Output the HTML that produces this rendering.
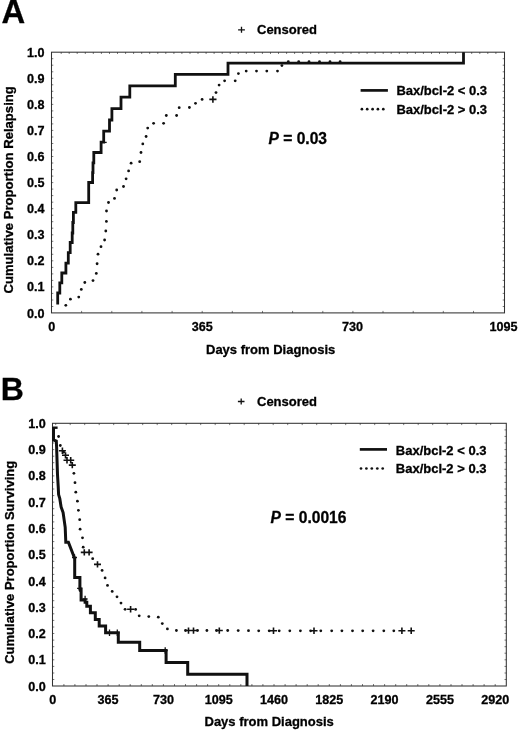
<!DOCTYPE html><html><head><meta charset="utf-8"><style>html,body{margin:0;padding:0;background:#fff;width:520px;height:732px;overflow:hidden}svg{display:block;filter:grayscale(1)}text{font-family:"Liberation Sans",sans-serif;font-weight:bold;fill:#000;stroke:#000;stroke-width:0.3}</style></head><body>
<svg width="520" height="732" viewBox="0 0 520 732">
<text x="1.4" y="23.4" font-size="32.8">A</text>
<path d="M238.1 29.8h6.8M241.5 26.7v6.1" stroke="#111" stroke-width="1.3"/>
<text x="257" y="34.3" font-size="13">Censored</text>
<rect x="51.5" y="52.2" width="453.0" height="260.7" fill="none" stroke="#333" stroke-width="1.05"/>
<path d="M61.2 52.2v1.8M69.2 52.2v1.8M77.2 52.2v1.8M85.3 52.2v1.8M93.3 52.2v1.8M101.4 52.2v1.8M109.5 52.2v1.8M117.5 52.2v1.8M125.6 52.2v1.8M133.6 52.2v1.8M141.7 52.2v1.8M149.7 52.2v1.8M157.8 52.2v1.8M165.8 52.2v1.8M173.9 52.2v1.8M181.9 52.2v1.8M190.0 52.2v1.8M198.0 52.2v1.8M206.1 52.2v1.8M214.1 52.2v1.8M222.2 52.2v1.8M230.2 52.2v1.8M238.2 52.2v1.8M246.3 52.2v1.8M254.4 52.2v1.8M262.4 52.2v1.8M270.5 52.2v1.8M278.5 52.2v1.8M286.6 52.2v1.8M294.6 52.2v1.8M302.7 52.2v1.8M310.7 52.2v1.8M318.8 52.2v1.8M326.8 52.2v1.8M334.9 52.2v1.8M342.9 52.2v1.8M351.0 52.2v1.8M359.0 52.2v1.8M367.1 52.2v1.8M375.1 52.2v1.8M383.2 52.2v1.8M391.2 52.2v1.8M399.3 52.2v1.8M407.3 52.2v1.8M415.4 52.2v1.8M423.4 52.2v1.8M431.5 52.2v1.8M439.5 52.2v1.8M447.6 52.2v1.8M455.6 52.2v1.8M463.7 52.2v1.8M471.7 52.2v1.8M479.8 52.2v1.8M487.8 52.2v1.8M495.9 52.2v1.8M81.6 312.9v-2M111.8 312.9v-2M141.9 312.9v-2M172.1 312.9v-2M202.2 312.9v-2M232.3 312.9v-2M262.5 312.9v-2M292.6 312.9v-2M322.8 312.9v-2M352.9 312.9v-2M383.0 312.9v-2M413.2 312.9v-2M443.3 312.9v-2M473.5 312.9v-2M51.5 58.7h1.8M504.5 58.7h-1.8M51.5 65.2h1.8M504.5 65.2h-1.8M51.5 71.8h1.8M504.5 71.8h-1.8M51.5 78.3h1.8M504.5 78.3h-1.8M51.5 84.8h1.8M504.5 84.8h-1.8M51.5 91.3h1.8M504.5 91.3h-1.8M51.5 97.8h1.8M504.5 97.8h-1.8M51.5 104.4h1.8M504.5 104.4h-1.8M51.5 110.9h1.8M504.5 110.9h-1.8M51.5 117.4h1.8M504.5 117.4h-1.8M51.5 123.9h1.8M504.5 123.9h-1.8M51.5 130.4h1.8M504.5 130.4h-1.8M51.5 137.0h1.8M504.5 137.0h-1.8M51.5 143.5h1.8M504.5 143.5h-1.8M51.5 150.0h1.8M504.5 150.0h-1.8M51.5 156.5h1.8M504.5 156.5h-1.8M51.5 163.0h1.8M504.5 163.0h-1.8M51.5 169.6h1.8M504.5 169.6h-1.8M51.5 176.1h1.8M504.5 176.1h-1.8M51.5 182.6h1.8M504.5 182.6h-1.8M51.5 189.1h1.8M504.5 189.1h-1.8M51.5 195.6h1.8M504.5 195.6h-1.8M51.5 202.2h1.8M504.5 202.2h-1.8M51.5 208.7h1.8M504.5 208.7h-1.8M51.5 215.2h1.8M504.5 215.2h-1.8M51.5 221.7h1.8M504.5 221.7h-1.8M51.5 228.2h1.8M504.5 228.2h-1.8M51.5 234.8h1.8M504.5 234.8h-1.8M51.5 241.3h1.8M504.5 241.3h-1.8M51.5 247.8h1.8M504.5 247.8h-1.8M51.5 254.3h1.8M504.5 254.3h-1.8M51.5 260.8h1.8M504.5 260.8h-1.8M51.5 267.4h1.8M504.5 267.4h-1.8M51.5 273.9h1.8M504.5 273.9h-1.8M51.5 280.4h1.8M504.5 280.4h-1.8M51.5 286.9h1.8M504.5 286.9h-1.8M51.5 293.4h1.8M504.5 293.4h-1.8M51.5 300.0h1.8M504.5 300.0h-1.8M51.5 306.5h1.8M504.5 306.5h-1.8" stroke="#222" stroke-width="1" fill="none" opacity="0.6"/>
<text x="44.6" y="56.8" font-size="12.6" text-anchor="end">1.0</text>
<text x="44.6" y="82.9" font-size="12.6" text-anchor="end">0.9</text>
<text x="44.6" y="108.9" font-size="12.6" text-anchor="end">0.8</text>
<text x="44.6" y="135.0" font-size="12.6" text-anchor="end">0.7</text>
<text x="44.6" y="161.1" font-size="12.6" text-anchor="end">0.6</text>
<text x="44.6" y="187.2" font-size="12.6" text-anchor="end">0.5</text>
<text x="44.6" y="213.2" font-size="12.6" text-anchor="end">0.4</text>
<text x="44.6" y="239.3" font-size="12.6" text-anchor="end">0.3</text>
<text x="44.6" y="265.4" font-size="12.6" text-anchor="end">0.2</text>
<text x="44.6" y="291.4" font-size="12.6" text-anchor="end">0.1</text>
<text x="44.6" y="317.5" font-size="12.6" text-anchor="end">0.0</text>
<text x="51.8" y="331.0" font-size="12.6" text-anchor="middle">0</text>
<text x="202.2" y="331.0" font-size="12.6" text-anchor="middle">365</text>
<text x="352.6" y="331.0" font-size="12.6" text-anchor="middle">730</text>
<text x="503.6" y="331.0" font-size="12.6" text-anchor="middle">1095</text>
<text x="206" y="353.6" font-size="13">Days from Diagnosis</text>
<text transform="translate(12.9,189.9) rotate(-90)" font-size="13.1" text-anchor="middle">Cumulative Proportion Relapsing</text>
<path d="M360.6 90.4H387.9" stroke="#111" stroke-width="2.7"/>
<circle cx="361.9" cy="109.2" r="1.35" fill="#111"/>
<circle cx="367.2" cy="109.2" r="1.35" fill="#111"/>
<circle cx="372.6" cy="109.2" r="1.35" fill="#111"/>
<circle cx="377.9" cy="109.2" r="1.35" fill="#111"/>
<circle cx="383.3" cy="109.2" r="1.35" fill="#111"/>
<text x="396.4" y="95.4" font-size="13">Bax/bcl-2 &lt; 0.3</text>
<text x="396.4" y="114.3" font-size="13">Bax/bcl-2 &gt; 0.3</text>
<text x="268.5" y="143.8" font-size="15.6"><tspan font-style="italic">P</tspan> = 0.03</text>
<path d="M57.7 304.5V293H59.8V282.8H61.8V273H65.9V263.1H68.3V252.7H70.2V242.5H72.2V233H72.8V222.5H73.4V212.3H75.8V202.6H88.7V182.5H92.6V172.6H93V162.8H93.8V152.5H101.1V142.1H103.7V131.2H109.5V120H111.9V108.7H121V97.2H129.8V85.9H175.3V74.3H228V63.1H463.5V52.3" fill="none" stroke="#111" stroke-width="2.8" stroke-linejoin="miter"/>
<circle cx="65.8" cy="305.3" r="1.4" fill="#111"/>
<circle cx="70.4" cy="299.2" r="1.4" fill="#111"/>
<circle cx="78.75" cy="297.1" r="1.4" fill="#111"/>
<circle cx="81.3" cy="289.4" r="1.4" fill="#111"/>
<circle cx="84.8" cy="282.5" r="1.4" fill="#111"/>
<circle cx="93" cy="280.6" r="1.4" fill="#111"/>
<circle cx="96.3" cy="273.4" r="1.4" fill="#111"/>
<circle cx="97.1" cy="263.75" r="1.4" fill="#111"/>
<circle cx="98" cy="254.2" r="1.4" fill="#111"/>
<circle cx="101" cy="246.7" r="1.4" fill="#111"/>
<circle cx="104.6" cy="240" r="1.4" fill="#111"/>
<circle cx="105.8" cy="231" r="1.4" fill="#111"/>
<circle cx="106.4" cy="221.4" r="1.4" fill="#111"/>
<circle cx="106.5" cy="211" r="1.4" fill="#111"/>
<circle cx="108.5" cy="202.5" r="1.4" fill="#111"/>
<circle cx="114.5" cy="198.4" r="1.4" fill="#111"/>
<circle cx="116.7" cy="190" r="1.4" fill="#111"/>
<circle cx="123.5" cy="186.5" r="1.4" fill="#111"/>
<circle cx="126.1" cy="178.8" r="1.4" fill="#111"/>
<circle cx="128.6" cy="170.9" r="1.4" fill="#111"/>
<circle cx="131.1" cy="163.2" r="1.4" fill="#111"/>
<circle cx="139.7" cy="161.7" r="1.4" fill="#111"/>
<circle cx="141" cy="152.5" r="1.4" fill="#111"/>
<circle cx="142.8" cy="143.9" r="1.4" fill="#111"/>
<circle cx="146.1" cy="136.5" r="1.4" fill="#111"/>
<circle cx="147.7" cy="128.1" r="1.4" fill="#111"/>
<circle cx="153.6" cy="123.3" r="1.4" fill="#111"/>
<circle cx="163.6" cy="123.3" r="1.4" fill="#111"/>
<circle cx="166.3" cy="115.5" r="1.4" fill="#111"/>
<circle cx="176.6" cy="115.5" r="1.4" fill="#111"/>
<circle cx="179.2" cy="107.7" r="1.4" fill="#111"/>
<circle cx="189.4" cy="107.5" r="1.4" fill="#111"/>
<circle cx="195.5" cy="103.3" r="1.4" fill="#111"/>
<circle cx="202.1" cy="99.4" r="1.4" fill="#111"/>
<circle cx="216" cy="92.6" r="1.4" fill="#111"/>
<circle cx="219.1" cy="85.1" r="1.4" fill="#111"/>
<circle cx="224.6" cy="80.8" r="1.4" fill="#111"/>
<circle cx="235.2" cy="80.8" r="1.4" fill="#111"/>
<circle cx="238.4" cy="73.6" r="1.4" fill="#111"/>
<circle cx="246.2" cy="71.1" r="1.4" fill="#111"/>
<circle cx="256.5" cy="71.1" r="1.4" fill="#111"/>
<circle cx="266.8" cy="71.1" r="1.4" fill="#111"/>
<circle cx="277.5" cy="71.1" r="1.4" fill="#111"/>
<circle cx="281.9" cy="65.6" r="1.4" fill="#111"/>
<circle cx="288.3" cy="61.7" r="1.4" fill="#111"/>
<circle cx="298.7" cy="61.7" r="1.4" fill="#111"/>
<circle cx="309" cy="61.7" r="1.4" fill="#111"/>
<circle cx="319.5" cy="61.7" r="1.4" fill="#111"/>
<circle cx="330" cy="61.7" r="1.4" fill="#111"/>
<circle cx="340.1" cy="61.7" r="1.4" fill="#111"/>
<path d="M209.3 99.4h7.2M212.9 96.2v6.5" stroke="#111" stroke-width="1.6"/>
<path d="M103.7 142.4h3" stroke="#111" stroke-width="1.3"/>
<text x="0.8" y="400.4" font-size="32">B</text>
<path d="M237.9 401.5h6.6M241.2 398.5v5.9" stroke="#111" stroke-width="1.3"/>
<text x="257" y="406.4" font-size="13">Censored</text>
<rect x="52.5" y="423.3" width="453.8" height="262.7" fill="none" stroke="#333" stroke-width="1.05"/>
<path d="M55.7 423.3v1.8M70.2 423.3v1.8M84.7 423.3v1.8M99.2 423.3v1.8M113.7 423.3v1.8M128.2 423.3v1.8M142.7 423.3v1.8M157.2 423.3v1.8M171.7 423.3v1.8M186.2 423.3v1.8M200.7 423.3v1.8M215.2 423.3v1.8M229.7 423.3v1.8M244.2 423.3v1.8M258.7 423.3v1.8M273.2 423.3v1.8M287.7 423.3v1.8M302.2 423.3v1.8M316.7 423.3v1.8M331.2 423.3v1.8M345.7 423.3v1.8M360.2 423.3v1.8M374.7 423.3v1.8M389.2 423.3v1.8M403.7 423.3v1.8M418.2 423.3v1.8M432.7 423.3v1.8M447.2 423.3v1.8M461.7 423.3v1.8M476.2 423.3v1.8M490.7 423.3v1.8M63.9 686.0v-2M74.9 686.0v-2M86.0 686.0v-2M97.0 686.0v-2M108.1 686.0v-2M119.2 686.0v-2M130.2 686.0v-2M141.3 686.0v-2M152.3 686.0v-2M163.4 686.0v-2M174.5 686.0v-2M185.5 686.0v-2M196.6 686.0v-2M207.6 686.0v-2M218.7 686.0v-2M229.8 686.0v-2M240.8 686.0v-2M251.9 686.0v-2M262.9 686.0v-2M274.0 686.0v-2M285.1 686.0v-2M296.1 686.0v-2M307.2 686.0v-2M318.2 686.0v-2M329.3 686.0v-2M340.4 686.0v-2M351.4 686.0v-2M362.5 686.0v-2M373.5 686.0v-2M384.6 686.0v-2M395.7 686.0v-2M406.7 686.0v-2M417.8 686.0v-2M428.8 686.0v-2M439.9 686.0v-2M451.0 686.0v-2M462.0 686.0v-2M473.1 686.0v-2M484.1 686.0v-2M495.2 686.0v-2M52.5 429.9h1.8M506.3 429.9h-1.8M52.5 436.4h1.8M506.3 436.4h-1.8M52.5 443.0h1.8M506.3 443.0h-1.8M52.5 449.6h1.8M506.3 449.6h-1.8M52.5 456.2h1.8M506.3 456.2h-1.8M52.5 462.7h1.8M506.3 462.7h-1.8M52.5 469.3h1.8M506.3 469.3h-1.8M52.5 475.9h1.8M506.3 475.9h-1.8M52.5 482.4h1.8M506.3 482.4h-1.8M52.5 489.0h1.8M506.3 489.0h-1.8M52.5 495.6h1.8M506.3 495.6h-1.8M52.5 502.1h1.8M506.3 502.1h-1.8M52.5 508.7h1.8M506.3 508.7h-1.8M52.5 515.3h1.8M506.3 515.3h-1.8M52.5 521.9h1.8M506.3 521.9h-1.8M52.5 528.4h1.8M506.3 528.4h-1.8M52.5 535.0h1.8M506.3 535.0h-1.8M52.5 541.6h1.8M506.3 541.6h-1.8M52.5 548.1h1.8M506.3 548.1h-1.8M52.5 554.7h1.8M506.3 554.7h-1.8M52.5 561.3h1.8M506.3 561.3h-1.8M52.5 567.8h1.8M506.3 567.8h-1.8M52.5 574.4h1.8M506.3 574.4h-1.8M52.5 581.0h1.8M506.3 581.0h-1.8M52.5 587.5h1.8M506.3 587.5h-1.8M52.5 594.1h1.8M506.3 594.1h-1.8M52.5 600.7h1.8M506.3 600.7h-1.8M52.5 607.3h1.8M506.3 607.3h-1.8M52.5 613.8h1.8M506.3 613.8h-1.8M52.5 620.4h1.8M506.3 620.4h-1.8M52.5 627.0h1.8M506.3 627.0h-1.8M52.5 633.5h1.8M506.3 633.5h-1.8M52.5 640.1h1.8M506.3 640.1h-1.8M52.5 646.7h1.8M506.3 646.7h-1.8M52.5 653.2h1.8M506.3 653.2h-1.8M52.5 659.8h1.8M506.3 659.8h-1.8M52.5 666.4h1.8M506.3 666.4h-1.8M52.5 673.0h1.8M506.3 673.0h-1.8M52.5 679.5h1.8M506.3 679.5h-1.8" stroke="#222" stroke-width="1" fill="none" opacity="0.6"/>
<text x="45.7" y="427.9" font-size="12.6" text-anchor="end">1.0</text>
<text x="45.7" y="454.2" font-size="12.6" text-anchor="end">0.9</text>
<text x="45.7" y="480.4" font-size="12.6" text-anchor="end">0.8</text>
<text x="45.7" y="506.7" font-size="12.6" text-anchor="end">0.7</text>
<text x="45.7" y="533.0" font-size="12.6" text-anchor="end">0.6</text>
<text x="45.7" y="559.2" font-size="12.6" text-anchor="end">0.5</text>
<text x="45.7" y="585.5" font-size="12.6" text-anchor="end">0.4</text>
<text x="45.7" y="611.8" font-size="12.6" text-anchor="end">0.3</text>
<text x="45.7" y="638.1" font-size="12.6" text-anchor="end">0.2</text>
<text x="45.7" y="664.3" font-size="12.6" text-anchor="end">0.1</text>
<text x="45.7" y="690.6" font-size="12.6" text-anchor="end">0.0</text>
<text x="52.8" y="703.6" font-size="12.6" text-anchor="middle">0</text>
<text x="108.1" y="703.6" font-size="12.6" text-anchor="middle">365</text>
<text x="163.4" y="703.6" font-size="12.6" text-anchor="middle">730</text>
<text x="218.7" y="703.6" font-size="12.6" text-anchor="middle">1095</text>
<text x="274.0" y="703.6" font-size="12.6" text-anchor="middle">1460</text>
<text x="329.3" y="703.6" font-size="12.6" text-anchor="middle">1825</text>
<text x="384.6" y="703.6" font-size="12.6" text-anchor="middle">2190</text>
<text x="439.9" y="703.6" font-size="12.6" text-anchor="middle">2555</text>
<text x="495.2" y="703.6" font-size="12.6" text-anchor="middle">2920</text>
<text x="204.5" y="726.2" font-size="13">Days from Diagnosis</text>
<text transform="translate(14.0,562.3) rotate(-90)" font-size="13" text-anchor="middle">Cumulative Proportion Surviving</text>
<path d="M359.8 449.4H387" stroke="#111" stroke-width="2.7"/>
<circle cx="361.0" cy="468.5" r="1.35" fill="#111"/>
<circle cx="366.4" cy="468.5" r="1.35" fill="#111"/>
<circle cx="371.8" cy="468.5" r="1.35" fill="#111"/>
<circle cx="377.3" cy="468.5" r="1.35" fill="#111"/>
<circle cx="382.7" cy="468.5" r="1.35" fill="#111"/>
<text x="395.8" y="455.1" font-size="13">Bax/bcl-2 &lt; 0.3</text>
<text x="395.8" y="473.4" font-size="13">Bax/bcl-2 &gt; 0.3</text>
<text x="270.6" y="523.3" font-size="15.6"><tspan font-style="italic">P</tspan> = 0.0016</text>
<path d="M53.5 427V440L56.3 441L56.6 447L57.5 474.6L58.2 486.4L58.6 494.6L59.8 498.7L61.1 506.9L63.1 512.6L65.2 527.4L65.8 542.2H68.4L74.7 558.5V577.5H79.9V589H81.1V600H85.1V602.2H86.8V606.2H90.4V612.8H95.3V619.4H99.2V626.1H105.6V632.7H118.3V642.2H139.7V650.5H166.1V662.5H187.7V674.2H247V686" fill="none" stroke="#111" stroke-width="3"/>
<path d="M53 427.7H57.6" stroke="#111" stroke-width="2.4"/>
<path d="M74.5 554.2v6.6M72.0 557.5h5M79.6 585.1v6.6M77.1 588.4h5M85.1 595.7v6.6M82.6 599h5M109.5 629.5v6.6M107.0 632.8h5M117.3 629.5v6.6M114.8 632.8h5M165.2 647.2v6.6M162.7 650.5h5" stroke="#111" stroke-width="1.3"/>
<circle cx="58.6" cy="436.5" r="1.4" fill="#111"/>
<circle cx="60.3" cy="445.5" r="1.4" fill="#111"/>
<circle cx="63.6" cy="452.2" r="1.4" fill="#111"/>
<circle cx="73.9" cy="473.3" r="1.4" fill="#111"/>
<circle cx="75" cy="482.7" r="1.4" fill="#111"/>
<circle cx="75.8" cy="492.2" r="1.4" fill="#111"/>
<circle cx="77.4" cy="501.2" r="1.4" fill="#111"/>
<circle cx="78.4" cy="510.3" r="1.4" fill="#111"/>
<circle cx="79.7" cy="519.7" r="1.4" fill="#111"/>
<circle cx="80.1" cy="529.2" r="1.4" fill="#111"/>
<circle cx="82.5" cy="537.8" r="1.4" fill="#111"/>
<circle cx="83.2" cy="547.2" r="1.4" fill="#111"/>
<circle cx="92.7" cy="558.7" r="1.4" fill="#111"/>
<circle cx="102.1" cy="570.4" r="1.4" fill="#111"/>
<circle cx="105.1" cy="577.9" r="1.4" fill="#111"/>
<circle cx="107.5" cy="585.4" r="1.4" fill="#111"/>
<circle cx="112.2" cy="591.4" r="1.4" fill="#111"/>
<circle cx="117" cy="596.8" r="1.4" fill="#111"/>
<circle cx="121" cy="603.1" r="1.4" fill="#111"/>
<circle cx="125.1" cy="609.3" r="1.4" fill="#111"/>
<circle cx="135.6" cy="609.4" r="1.4" fill="#111"/>
<circle cx="139.2" cy="615.8" r="1.4" fill="#111"/>
<circle cx="148.8" cy="616.6" r="1.4" fill="#111"/>
<circle cx="158.3" cy="617.2" r="1.4" fill="#111"/>
<circle cx="162.3" cy="623.6" r="1.4" fill="#111"/>
<circle cx="167.4" cy="628.9" r="1.4" fill="#111"/>
<circle cx="176.4" cy="630.5" r="1.4" fill="#111"/>
<circle cx="185.5" cy="630.5" r="1.4" fill="#111"/>
<circle cx="197.5" cy="630.5" r="1.4" fill="#111"/>
<circle cx="206.9" cy="630.5" r="1.4" fill="#111"/>
<circle cx="216.5" cy="630.5" r="1.4" fill="#111"/>
<circle cx="227.7" cy="630.5" r="1.4" fill="#111"/>
<circle cx="238.2" cy="630.6" r="1.4" fill="#111"/>
<circle cx="248.5" cy="630.7" r="1.4" fill="#111"/>
<circle cx="258.7" cy="630.8" r="1.4" fill="#111"/>
<circle cx="269.2" cy="630.8" r="1.4" fill="#111"/>
<circle cx="279.2" cy="630.8" r="1.4" fill="#111"/>
<circle cx="289.8" cy="630.8" r="1.4" fill="#111"/>
<circle cx="300.4" cy="630.8" r="1.4" fill="#111"/>
<circle cx="310.6" cy="630.8" r="1.4" fill="#111"/>
<circle cx="320.8" cy="630.8" r="1.4" fill="#111"/>
<circle cx="331.7" cy="630.8" r="1.4" fill="#111"/>
<circle cx="341.9" cy="630.8" r="1.4" fill="#111"/>
<circle cx="352.5" cy="630.8" r="1.4" fill="#111"/>
<circle cx="362.7" cy="630.8" r="1.4" fill="#111"/>
<circle cx="373.1" cy="630.8" r="1.4" fill="#111"/>
<circle cx="383.8" cy="630.8" r="1.4" fill="#111"/>
<circle cx="393.8" cy="630.8" r="1.4" fill="#111"/>
<path d="M58.9 450.7h7.0M62.4 447.6v6.3M62.0 455.3h7.0M65.5 452.2v6.3M63.5 460.2h7.0M67.0 457.1v6.3M67.2 460.2h7.0M70.7 457.1v6.3M68.8 465.1h7.0M72.3 462.0v6.3M80.8 552.4h7.0M84.3 549.2v6.3M85.6 552.4h7.0M89.1 549.2v6.3M94.0 564.4h7.0M97.5 561.2v6.3M127.1 609.3h7.0M130.6 606.1v6.3M185.0 630.5h7.0M188.5 627.4v6.3M190.0 630.5h7.0M193.5 627.4v6.3M215.8 630.5h7.0M219.3 627.4v6.3M270.0 630.8h7.0M273.5 627.6v6.3M310.5 630.8h7.0M314.0 627.6v6.3M398.4 630.8h7.0M401.9 627.6v6.3M407.7 630.8h7.0M411.2 627.6v6.3" stroke="#111" stroke-width="1.6"/>
</svg></body></html>
